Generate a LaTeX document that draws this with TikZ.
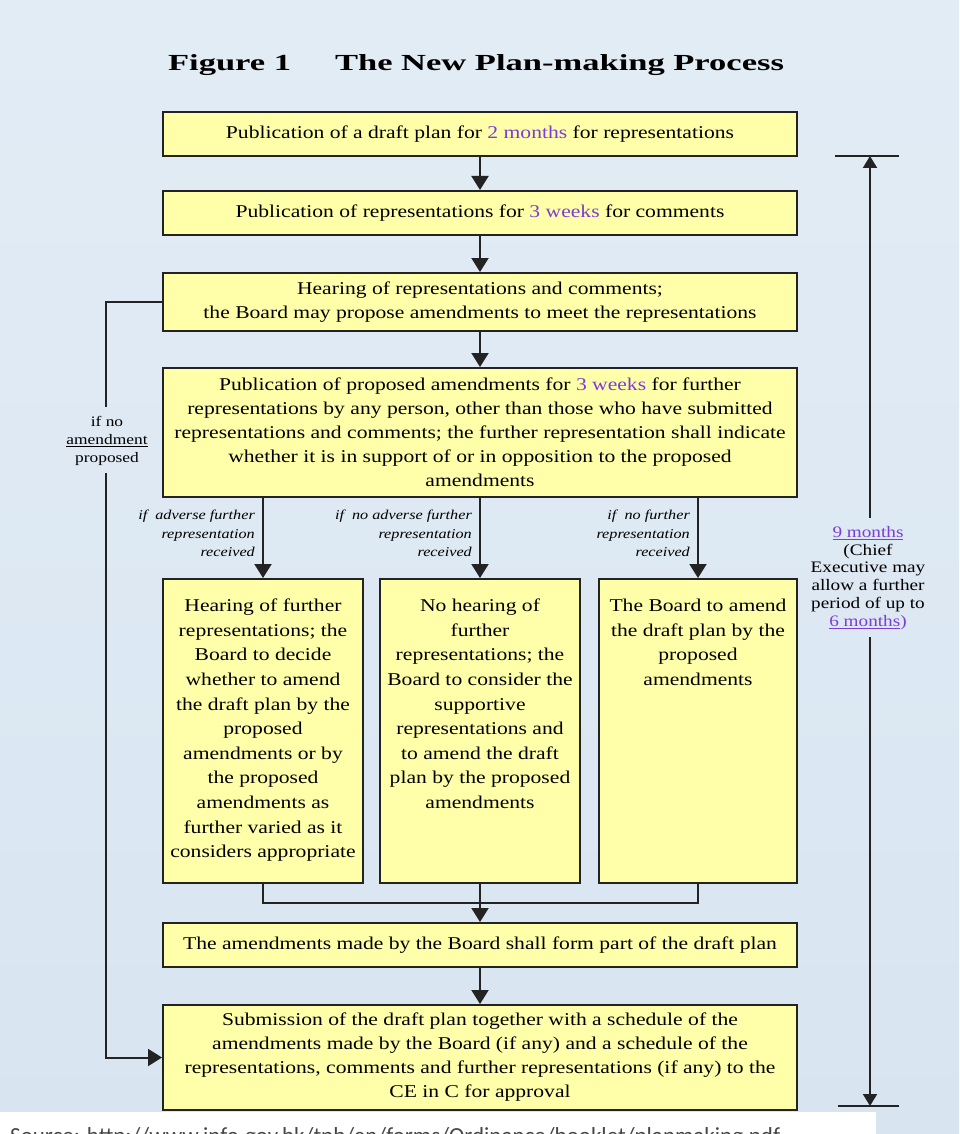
\documentclass[tikz,border=0pt]{standalone}
\usepackage{fontspec}
\setmainfont{Liberation Serif}[FakeStretch=1.2]
\newfontfamily\titlefont{Liberation Serif}[FakeStretch=1.5]
\newfontfamily\srcfont{Carlito}
\usetikzlibrary{arrows.meta}
\definecolor{bgtop}{RGB}{226,236,245}
\definecolor{bgbot}{RGB}{216,229,241}
\definecolor{boxfill}{RGB}{255,255,170}
\definecolor{boxline}{RGB}{35,35,35}
\definecolor{purp}{RGB}{125,60,215}
\tikzset{
  flowbox/.style={draw=boxline, line width=2pt, fill=boxfill, inner sep=0pt,
    minimum width=634pt, align=center, font=\fontsize{18}{24}\selectfont},
  colbox/.style={draw=boxline, line width=2pt, fill=boxfill, inner sep=0pt,
    font=\fontsize{18}{24.6}\selectfont},
  conn/.style={draw=boxline, line width=2pt},
  arr/.style={conn, -{Triangle[width=17pt,length=14pt]}},
  dimarr/.style={conn, -{Triangle[width=14pt,length=12pt]}},
  cond/.style={align=right, anchor=east, inner sep=0pt,
    font=\fontsize{13.5}{18.5}\selectfont\itshape},
  note/.style={align=center, inner sep=0pt, font=\fontsize{16}{17.8}\selectfont},
}
\begin{document}
\begin{tikzpicture}[x=1pt,y=-1pt]
\useasboundingbox (0,0) rectangle (959,1134);
\begin{scope}
  \clip (0,0) rectangle (959,1134);
  \shade[top color=bgtop, bottom color=bgbot] (0,0) rectangle (959,1134);
  \fill[white] (0,1112) rectangle (876,1134);
  \node[anchor=base west, inner sep=0pt, text=black!72,
    font=\srcfont\fontsize{23}{23}\selectfont] (src) at (10,1143)
    {Source: http://www.info.gov.hk/tpb/en/forms/Ordinance/booklet/planmaking.pdf};
\end{scope}

% title
\node[anchor=base, inner sep=0pt, font=\titlefont\bfseries\fontsize{23}{26}\selectfont]
  (title) at (476,71) {Figure 1\hspace{44pt}The New Plan-making Process};

% main boxes
\node[flowbox, minimum height=44pt] (b1) at (480,134)
  {Publication of a draft plan for \textcolor{purp}{2 months} for representations};
\node[flowbox, minimum height=44pt] (b2) at (480,213)
  {Publication of representations for \textcolor{purp}{3 weeks} for comments};
\node[flowbox, minimum height=58pt] (b3) at (480,302)
  {Hearing of representations and comments;\\
   the Board may propose amendments to meet the representations};
\node[flowbox, minimum height=129pt] (b4) at (480,432.5)
  {Publication of proposed amendments for \textcolor{purp}{3 weeks} for further\\
   representations by any person, other than those who have submitted\\
   representations and comments; the further representation shall indicate\\
   whether it is in support of or in opposition to the proposed\\
   amendments};

\node[colbox] (b5a) at (263,731)
  {\parbox[c][304pt][t]{200pt}{\centering\vspace*{20pt}Hearing of further\\
   representations; the\\ Board to decide\\ whether to amend\\ the draft plan by the\\
   proposed\\ amendments or by\\ the proposed\\ amendments as\\ further varied as it\\
   considers appropriate}};
\node[colbox] (b5b) at (480,731)
  {\parbox[c][304pt][t]{200pt}{\centering\vspace*{20pt}No hearing of\\ further\\
   representations; the\\ Board to consider the\\ supportive\\ representations and\\
   to amend the draft\\ plan by the proposed\\ amendments}};
\node[colbox] (b5c) at (698,731)
  {\parbox[c][304pt][t]{198pt}{\centering\vspace*{20pt}The Board to amend\\
   the draft plan by the\\ proposed\\ amendments}};

\node[flowbox, minimum height=44pt] (b6) at (480,945)
  {The amendments made by the Board shall form part of the draft plan};
\node[flowbox, minimum height=105pt] (b7) at (480,1057.5)
  {Submission of the draft plan together with a schedule of the\\
   amendments made by the Board (if any) and a schedule of the\\
   representations, comments and further representations (if any) to the\\
   CE in C for approval};

% condition labels
\node[cond] (la) at (255,533.5) {if\ \ adverse further\\ representation\\ received};
\node[cond] (lb) at (472,533.5) {if\ \ no adverse further\\ representation\\ received};
\node[cond] (lc) at (690,533.5) {if\ \ no further\\ representation\\ received};

% main arrows
\draw[arr] (b1) -- (b2);
\draw[arr] (b2) -- (b3);
\draw[arr] (b3) -- (b4);
\draw[arr] (b4.south -| b5a.north) -- (b5a.north);
\draw[arr] (b4.south -| b5b.north) -- (b5b.north);
\draw[arr] (b4.south -| b5c.north) -- (b5c.north);
\coordinate (j) at (480,903);
\draw[conn] (b5a.south) |- (j) -| (b5c.south);
\draw[arr] (b5b.south) -- (b6.north);
\draw[arr] (b6) -- (b7);

% left loop
\coordinate (l1) at (106,302);
\coordinate (l2) at (106,407);
\coordinate (l3) at (106,473);
\coordinate (l4) at (106,1057.5);
\draw[conn] (b3.west) -- (l1) -- (l2);
\draw[arr] (l3) -- (l4) -- (b7.west);
\node[note, font=\fontsize{14.5}{18}\selectfont] (noamend) at (107,441)
  {if no\\ \underline{amendment}\\ proposed};

% right dimension
\coordinate (rt) at (870,156);
\coordinate (rtl) at (835,156);
\coordinate (rtr) at (899,156);
\coordinate (rb) at (870,1106);
\coordinate (rbl) at (838,1106);
\coordinate (rbr) at (899,1106);
\coordinate (ra) at (870,518);
\coordinate (rc) at (870,637);
\draw[conn] (rtl) -- (rtr);
\draw[conn] (rbl) -- (rbr);
\draw[dimarr] (ra) -- (rt);
\draw[dimarr] (rc) -- (rb);
\node[note] (months) at (868,578)
  {\textcolor{purp}{\underline{9 months}}\\ (Chief\\ Executive may\\ allow a further\\
   period of up to\\ \textcolor{purp}{\underline{6 months})}};
\end{tikzpicture}
\end{document}
